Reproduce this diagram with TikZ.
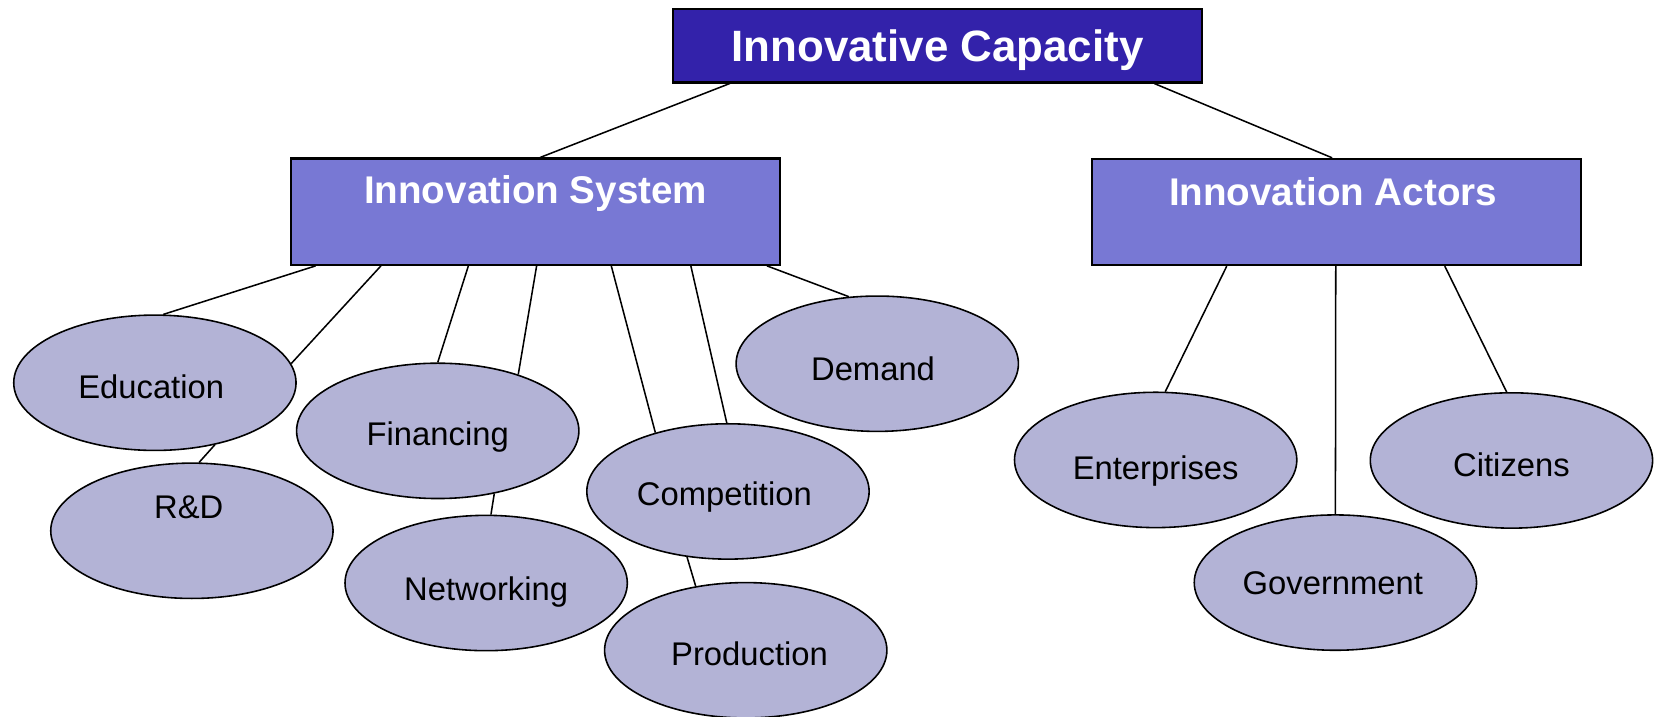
\documentclass[tikz,border=0pt]{standalone}
\usepackage{fontspec}
\setmainfont{Liberation Sans}
\usetikzlibrary{shapes.geometric,calc}
\definecolor{topblue}{HTML}{3322AA}
\definecolor{midblue}{HTML}{7878D4}
\definecolor{bubble}{HTML}{B3B3D6}
\begin{document}
\begin{tikzpicture}[x=1pt,y=-1pt,
  topbox/.style={draw=black, line width=2pt, fill=topblue, minimum width=500.6pt, minimum height=69.5pt, inner sep=0pt,
    text=white, font=\bfseries\fontsize{41.5}{45}\selectfont, text height=29.7pt, text depth=0pt},
  midbox/.style={draw=black, line width=2pt, fill=midblue, minimum width=462.5pt, minimum height=100.5pt, inner sep=0pt},
  hdr/.style={text=white, font=\bfseries\fontsize{36.5}{40}\selectfont, text height=26.1pt, text depth=0pt, inner sep=0pt},
  bub/.style={ellipse, draw=black, line width=1.5pt, fill=bubble, minimum width=267pt, minimum height=128pt, inner sep=0pt},
  txt/.style={text=black, font=\fontsize{31}{35}\selectfont, text height=22.2pt, text depth=0pt, inner sep=0pt},
  conn/.style={draw=black, line width=1.45pt}
]
\useasboundingbox (0,0) rectangle (1570,678);

% boxes
\node[topbox] (cap) at (886.7,43.25) {Innovative Capacity};
\node[midbox, label={[hdr, yshift=21pt]center:Innovation System}] (is) at (506.6,200.2) {};
\node[midbox, label={[hdr, yshift=19.5pt, xshift=-3pt]center:Innovation Actors}] (ia) at (1263.8,200.5) {};

% ellipses
\node[bub, label={[txt, xshift=-3.5pt, yshift=-4pt]center:Education}] (edu) at (146.5,362) {};
\node[bub, label={[txt, xshift=-3pt, yshift=22.6pt]center:R\&D}] (rd) at (181.5,502) {};
\node[bub, label={[txt, yshift=-3pt]center:Financing}] (fin) at (414,407.5) {};
\node[bub, label={[txt, yshift=-5.6pt]center:Networking}] (net) at (459.8,551.4) {};
\node[bub, label={[txt, xshift=-3.4pt, yshift=-2pt]center:Competition}] (comp) at (688.5,464.8) {};
\node[bub, label={[txt, xshift=3.6pt, yshift=-3pt]center:Production}] (prod) at (705.3,615) {};
\node[bub, label={[txt, xshift=-4pt, yshift=-5pt]center:Demand}] (dem) at (829.7,344) {};
\node[bub, label={[txt, yshift=-7pt]center:Enterprises}] (ent) at (1093,435) {};
\node[bub, label={[txt, xshift=-2.4pt, yshift=-0.6pt]center:Government}] (gov) at (1263,551) {};
\node[bub, label={[txt, yshift=-4.5pt]center:Citizens}] (cit) at (1429.5,435.5) {};

% connectors
\draw[conn] ($(cap.south west)!0.109!(cap.south east)$) -- ($(is.north west)!0.509!(is.north east)$);
\draw[conn] ($(cap.south west)!0.908!(cap.south east)$) -- ($(ia.north west)!0.4916!(ia.north east)$);

\draw[conn] ($(is.south west)!0.052!(is.south east)$) -- (edu.83.9);
\draw[conn] ($(is.south west)!0.185!(is.south east)$) -- (edu.8.7);
\draw[conn] ($(is.south west)!0.363!(is.south east)$) -- (fin.90);
\draw[conn] ($(is.south west)!0.502!(is.south east)$) -- (fin.35.3);
\draw[conn] ($(is.south west)!0.654!(is.south east)$) -- (comp.141.7);
\draw[conn] ($(is.south west)!0.816!(is.south east)$) -- (comp.91.8);
\draw[conn] ($(is.south west)!0.971!(is.south east)$) -- (dem.113.2);

\draw[conn] (edu.-46.5) -- (rd.84.6);
\draw[conn] (fin.-48.1) -- (net.86);
\draw[conn] (comp.-122.8) -- (prod.128.9);

\draw[conn] ($(ia.south west)!0.277!(ia.south east)$) -- (ent.82);
\draw[conn] ($(ia.south west)!0.499!(ia.south east)$) -- (gov.90);
\draw[conn] ($(ia.south west)!0.721!(ia.south east)$) -- (cit.94);
\end{tikzpicture}
\end{document}
